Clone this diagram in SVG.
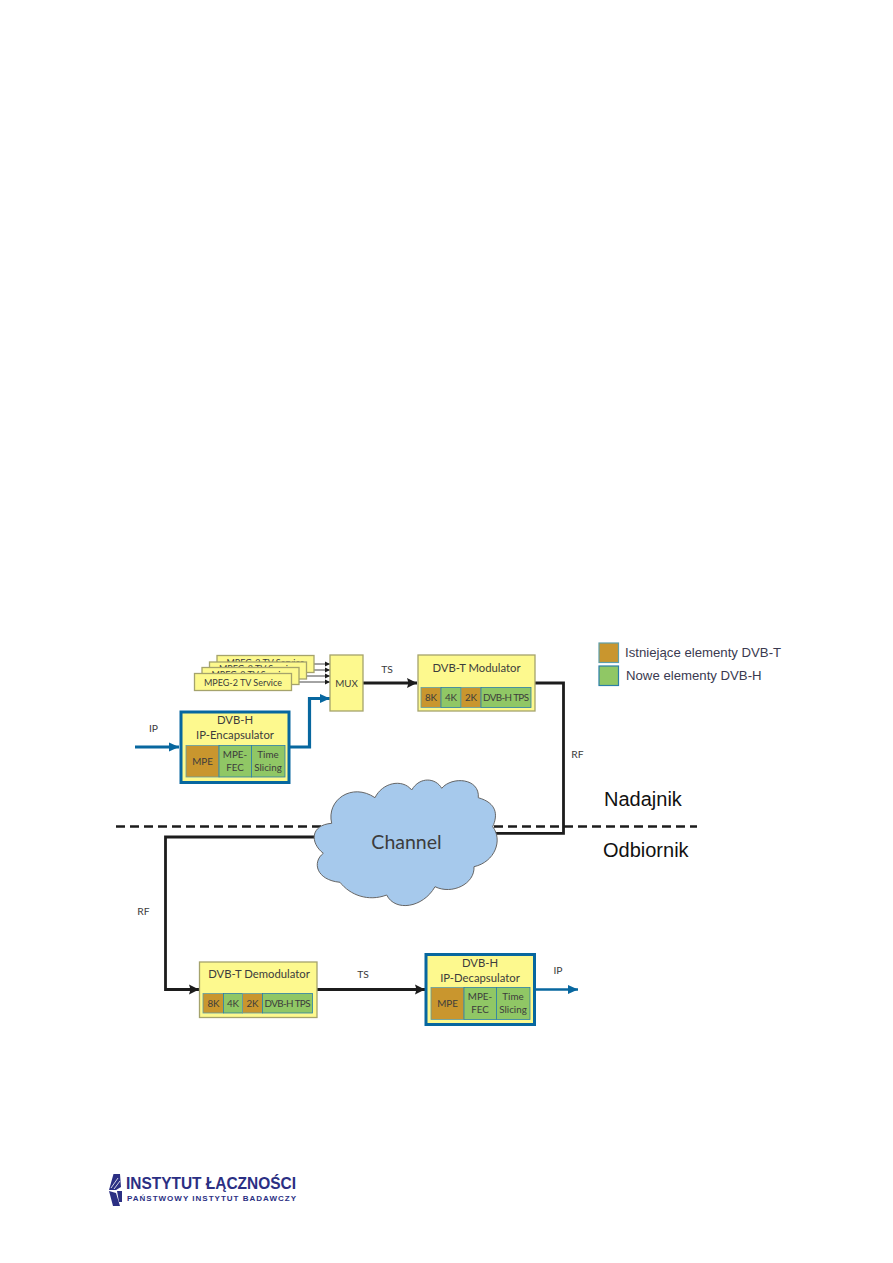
<svg xmlns="http://www.w3.org/2000/svg" width="893" height="1263" viewBox="0 0 893 1263">
<style>
text{font-family:"Lato","Open Sans","Liberation Sans",sans-serif;fill:#3c3c3c;text-anchor:middle}
.box{fill:#fdf98e;stroke:#a5a36c;stroke-width:1.3}
.enc{fill:#fdf98e;stroke:#07679f;stroke-width:3}
.old{fill:#c9962e;stroke:#5f9ea8;stroke-width:.8}
.new{fill:#90c765;stroke:#2b7fa8;stroke-width:.8}
.t{font-size:11.300px}
.c{font-size:9.800px}
.l{font-size:10.300px}
.s{font-size:9px}
.wire{fill:none;stroke:#1c1c1c;stroke-width:2.800}
.thin{fill:none;stroke:#333;stroke-width:.9}
.blue{fill:none;stroke:#07679f;stroke-width:3.200}
.leg{font-family:"Liberation Sans",sans-serif;text-anchor:start;font-size:13.200px;fill:#3a3a50}
.side{font-family:"Liberation Sans",sans-serif;text-anchor:start;font-size:20px;fill:#111}
</style>
<defs>
<marker id="ak" markerUnits="userSpaceOnUse" markerWidth="11" markerHeight="11" refX="10" refY="5.500" orient="auto"><path d="M0 .5L10 5.500L0 10.500L1.500 5.500Z" fill="#1c1c1c"/></marker>
<marker id="ab" markerUnits="userSpaceOnUse" markerWidth="11" markerHeight="11" refX="10" refY="5.500" orient="auto"><path d="M0 1L10 5.500L0 10Z" fill="#07679f"/></marker>
<marker id="at" markerUnits="userSpaceOnUse" markerWidth="5" markerHeight="6" refX="5" refY="3" orient="auto"><path d="M0 .5L5 3L0 5.500Z" fill="#1c1c1c"/></marker>
</defs>

<!-- section divider between transmitter and receiver -->
<path d="M116 826.500H697" fill="none" stroke="#1c1c1c" stroke-width="2.300" stroke-dasharray="9 5"/>

<g id="connectors">
<path class="thin" marker-end="url(#at)" d="M313 664H330"/>
<path class="thin" marker-end="url(#at)" d="M306 670H330"/>
<path class="thin" marker-end="url(#at)" d="M299 676H330"/>
<path class="thin" marker-end="url(#at)" d="M291 682H330"/>
<path class="wire" marker-end="url(#ak)" d="M363 683H417"/>
<path class="wire" d="M535 683H563.500V833.300H495"/>
<path class="wire" marker-end="url(#ak)" d="M320 837H165.500V989.500H199"/>
<path class="wire" marker-end="url(#ak)" d="M317 989.500H425"/>
<path class="blue" marker-end="url(#ab)" d="M135 747H179"/>
<path class="blue" marker-end="url(#ab)" d="M290 747H309.500V698.500H330"/>
<path class="blue" marker-end="url(#ab)" d="M535 989.500H578" style="stroke-width:2.500"/>
</g>

<g id="mpeg-services">
<rect class="box" x="217" y="655.500" width="97" height="17"/><text class="s" x="265.500" y="666">MPEG-2 TV Service</text>
<rect class="box" x="209.500" y="662" width="97" height="17"/><text class="s" x="258" y="672">MPEG-2 TV Service</text>
<rect class="box" x="202" y="667.500" width="97" height="17"/><text class="s" x="250.500" y="678">MPEG-2 TV Service</text>
<rect class="box" x="194.500" y="673.500" width="97" height="17"/><text class="s" x="243" y="685.500">MPEG-2 TV Service</text>
</g>

<g id="mux">
<rect class="box" x="330" y="655" width="33" height="56"/><text class="c" x="346.500" y="687">MUX</text>
</g>

<g id="modulator">
<rect class="box" x="418" y="655" width="117" height="56"/>
<text class="t" x="476.500" y="672">DVB-T Modulator</text>
<rect class="old" x="421" y="687.500" width="20" height="20"/><text class="c" x="431" y="700.500">8K</text>
<rect class="new" x="441" y="687.500" width="20" height="20"/><text class="c" x="451" y="700.500">4K</text>
<rect class="old" x="461" y="687.500" width="20" height="20"/><text class="c" x="471" y="700.500">2K</text>
<rect class="new" x="481" y="687.500" width="50" height="20"/><text class="c" x="506" y="700.500" textLength="46">DVB-H TPS</text>
</g>

<g id="encapsulator">
<rect class="enc" x="181" y="712" width="108" height="70.500"/>
<text class="t" x="235" y="724">DVB-H</text>
<text class="t" x="235" y="739">IP-Encapsulator</text>
<rect class="old" x="186" y="745.500" width="33" height="31.500"/><text class="c" x="202.500" y="764.500">MPE</text>
<rect class="new" x="219" y="745.500" width="32.500" height="31.500"/><text class="c" x="235" y="758">MPE-</text><text class="c" x="235" y="770.500">FEC</text>
<rect class="new" x="251.500" y="745.500" width="33.500" height="31.500"/><text class="c" x="268" y="758">Time</text><text class="c" x="268" y="770.500">Slicing</text>
</g>

<g id="channel">
<path d="M331.700 823.300C326 800 352 782 375 797.700C382 783 402 778 411.700 790C420 776 436 778 441.700 788.300C452 776 480 778 478.300 797.700C497 803 498 815 492.700 826.700C503 840 495 862 474 866.700C475 884 452 895 435 886.700C423 908 395 912 386.700 895C368 902 350 895 340 882.300C316 880 312 862 323.300 853.300C310 843 310 825 331.700 823.300Z" fill="#a6c9ec" stroke="#666" stroke-width="1"/>
<text x="406.500" y="849" style="font-size:19.500px">Channel</text>
</g>

<g id="demodulator">
<rect class="box" x="199.500" y="962" width="117.500" height="55.500"/>
<text class="t" x="259" y="978">DVB-T Demodulator</text>
<rect class="old" x="203" y="993.500" width="20.500" height="19.500"/><text class="c" x="213.500" y="1006.500">8K</text>
<rect class="new" x="223.500" y="993.500" width="19" height="19.500"/><text class="c" x="233" y="1006.500">4K</text>
<rect class="old" x="242.500" y="993.500" width="20" height="19.500"/><text class="c" x="252.500" y="1006.500">2K</text>
<rect class="new" x="262.500" y="993.500" width="50" height="19.500"/><text class="c" x="287.500" y="1006.500" textLength="46">DVB-H TPS</text>
</g>

<g id="decapsulator">
<rect class="enc" x="426" y="954.500" width="108.500" height="70"/>
<text class="t" x="480" y="967">DVB-H</text>
<text class="t" x="480" y="982">IP-Decapsulator</text>
<rect class="old" x="431" y="987.500" width="33" height="32"/><text class="c" x="447.500" y="1006.500">MPE</text>
<rect class="new" x="464" y="987.500" width="32.500" height="32"/><text class="c" x="480" y="1000">MPE-</text><text class="c" x="480" y="1012.500">FEC</text>
<rect class="new" x="496.500" y="987.500" width="33.500" height="32"/><text class="c" x="513" y="1000">Time</text><text class="c" x="513" y="1012.500">Slicing</text>
</g>

<g id="wire-labels">
<text class="l" x="153.500" y="732">IP</text>
<text class="l" x="387" y="673">TS</text>
<text class="l" x="577.500" y="758">RF</text>
<text class="l" x="143.500" y="915">RF</text>
<text class="l" x="363" y="978">TS</text>
<text class="l" x="558" y="974">IP</text>
</g>

<g id="legend">
<rect class="old" x="599" y="643" width="19.500" height="19.500" style="stroke-width:1.200"/>
<text class="leg" x="625" y="657">Istniejące elementy DVB-T</text>
<rect class="new" x="599" y="666" width="19.500" height="19.500" style="stroke-width:1.200"/>
<text class="leg" x="626" y="680">Nowe elementy DVB-H</text>
</g>

<g id="sides">
<text class="side" x="604" y="806">Nadajnik</text>
<text class="side" x="603" y="857">Odbiornik</text>
</g>

<g id="logo">
<!-- stylised emblem beside the institute name -->
<path d="M113.500 1174L120 1174L121 1187L116 1190L109 1190ZM109 1191L116 1193L120 1206L113 1206ZM117 1191L122 1191L122 1202L119 1202Z" fill="#2b2f83"/>
<path d="M111 1188L118 1178M114 1189L120 1181" stroke="#fff" stroke-width=".8" fill="none"/>
<text x="126" y="1189" textLength="170" lengthAdjust="spacingAndGlyphs" style="font-family:'Liberation Sans',sans-serif;font-weight:700;font-size:17px;fill:#2b2f83;text-anchor:start">INSTYTUT ŁĄCZNOŚCI</text>
<text x="127" y="1200.500" textLength="169" style="font-family:'Liberation Sans',sans-serif;font-weight:700;font-size:8px;fill:#2b2f83;text-anchor:start">PAŃSTWOWY INSTYTUT BADAWCZY</text>
</g>
</svg>
